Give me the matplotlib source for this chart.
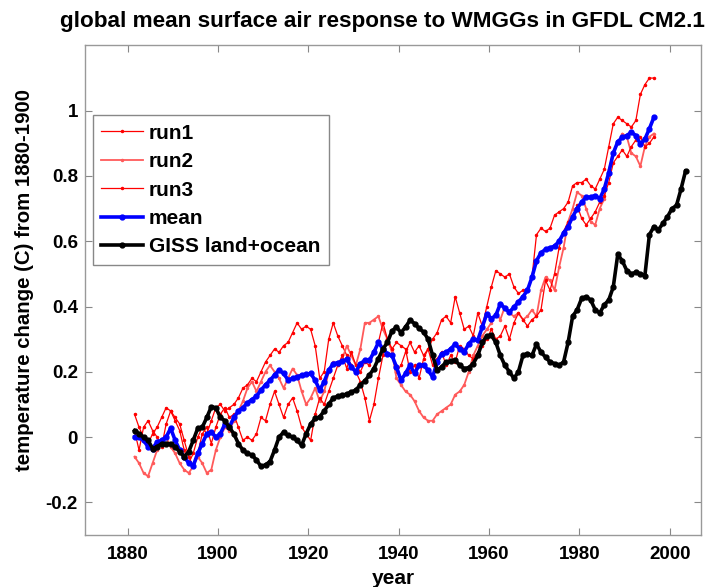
import numpy as np
import matplotlib.pyplot as plt

plt.rcParams['font.family'] = ['Liberation Sans', 'DejaVu Sans']
plt.rcParams['font.weight'] = 'bold'
plt.rcParams['axes.titleweight'] = 'bold'
plt.rcParams['axes.labelweight'] = 'bold'

# model years (annual means, plotted mid-year)
model_years = np.arange(1881, 1997) + 0.5
giss_years = np.arange(1881, 2004) + 0.5

run1 = [0.07, 0.03, 0.00, -0.02, 0.01, 0.03, 0.06, 0.09, 0.08, 0.05,
        0.02, -0.04, -0.08, -0.05, 0.00, 0.03, 0.01, 0.05, 0.09, 0.10,
        0.08, 0.09, 0.10, 0.12, 0.15, 0.16, 0.18, 0.17, 0.20, 0.23,
        0.25, 0.27, 0.26, 0.28, 0.29, 0.32, 0.35, 0.33, 0.34, 0.33,
        0.28, 0.18, 0.20, 0.30, 0.35, 0.31, 0.28, 0.25, 0.22, 0.20,
        0.17, 0.12, 0.05, 0.10, 0.18, 0.25, 0.30, 0.27, 0.20, 0.22,
        0.26, 0.29, 0.26, 0.28, 0.25, 0.27, 0.30, 0.32, 0.36, 0.37,
        0.35, 0.43, 0.38, 0.33, 0.34, 0.31, 0.38, 0.34, 0.40, 0.46,
        0.51, 0.50, 0.49, 0.50, 0.46, 0.44, 0.45, 0.45, 0.49, 0.62,
        0.64, 0.63, 0.64, 0.68, 0.69, 0.70, 0.72, 0.77, 0.78, 0.78,
        0.79, 0.77, 0.76, 0.79, 0.82, 0.89, 0.96, 0.98, 0.97, 0.96,
        0.95, 0.97, 1.05, 1.08, 1.10, 1.10]

run2 = [-0.06, -0.08, -0.11, -0.12, -0.08, -0.04, -0.02, 0.00, -0.03, -0.05,
        -0.08, -0.10, -0.11, -0.09, -0.06, -0.08, -0.11, -0.10, -0.04, 0.00,
        0.03, 0.02, 0.05, 0.08, 0.11, 0.15, 0.17, 0.14, 0.17, 0.20,
        0.22, 0.20, 0.18, 0.15, 0.18, 0.21, 0.19, 0.14, 0.10, 0.12,
        0.15, 0.11, 0.14, 0.20, 0.23, 0.22, 0.24, 0.28, 0.25, 0.22,
        0.27, 0.35, 0.35, 0.36, 0.37, 0.33, 0.30, 0.26, 0.18, 0.16,
        0.14, 0.13, 0.11, 0.08, 0.06, 0.05, 0.05, 0.07, 0.08, 0.09,
        0.10, 0.13, 0.14, 0.16, 0.20, 0.25, 0.28, 0.31, 0.33, 0.35,
        0.38, 0.36, 0.40, 0.38, 0.37, 0.38, 0.36, 0.37, 0.39, 0.37,
        0.45, 0.49, 0.48, 0.45, 0.52, 0.58, 0.66, 0.70, 0.75, 0.74,
        0.70, 0.66, 0.65, 0.70, 0.73, 0.82, 0.87, 0.90, 0.93, 0.92,
        0.87, 0.86, 0.83, 0.89, 0.92, 0.93]

run3 = [0.02, -0.04, 0.03, 0.05, 0.02, 0.00, -0.03, 0.04, 0.08, 0.06,
        0.04, -0.01, -0.06, -0.09, -0.05, 0.01, 0.03, -0.02, 0.03, 0.07,
        0.09, 0.06, 0.07, 0.03, -0.01, 0.00, -0.01, 0.01, 0.06, 0.05,
        0.10, 0.14, 0.10, 0.06, 0.10, 0.12, 0.08, 0.03, 0.01, -0.01,
        0.07, 0.12, 0.10, 0.14, 0.18, 0.22, 0.25, 0.21, 0.26, 0.22,
        0.20, 0.23, 0.22, 0.26, 0.29, 0.35, 0.30, 0.27, 0.29, 0.28,
        0.27, 0.20, 0.22, 0.18, 0.24, 0.27, 0.22, 0.24, 0.26, 0.22,
        0.25, 0.23, 0.28, 0.27, 0.25, 0.24, 0.26, 0.28, 0.30, 0.33,
        0.30, 0.31, 0.34, 0.30, 0.35, 0.38, 0.36, 0.34, 0.36, 0.37,
        0.39, 0.48, 0.45, 0.50, 0.58, 0.63, 0.66, 0.67, 0.71, 0.67,
        0.65, 0.67, 0.69, 0.72, 0.74, 0.78, 0.84, 0.86, 0.88, 0.86,
        0.89, 0.91, 0.92, 0.89, 0.90, 0.92]

ens_mean = [0.00, 0.00, -0.01, -0.03, -0.035, -0.015, -0.01, 0.00, 0.027, -0.01,
            -0.04, -0.06, -0.08, -0.088, -0.05, -0.02, 0.01, 0.016, 0.00, 0.01,
            0.04, 0.031, 0.06, 0.08, 0.09, 0.105, 0.115, 0.125, 0.144, 0.16,
            0.174, 0.19, 0.205, 0.195, 0.175, 0.18, 0.184, 0.19, 0.192, 0.195,
            0.174, 0.144, 0.17, 0.205, 0.225, 0.228, 0.232, 0.238, 0.215, 0.20,
            0.225, 0.235, 0.235, 0.26, 0.29, 0.27, 0.255, 0.25, 0.215, 0.174,
            0.195, 0.22, 0.195, 0.22, 0.22, 0.205, 0.184, 0.23, 0.255, 0.26,
            0.27, 0.285, 0.27, 0.26, 0.286, 0.30, 0.297, 0.337, 0.378, 0.363,
            0.373, 0.409, 0.394, 0.383, 0.398, 0.414, 0.43, 0.45, 0.49, 0.54,
            0.565, 0.575, 0.58, 0.585, 0.60, 0.625, 0.645, 0.675, 0.70, 0.72,
            0.735, 0.735, 0.74, 0.73, 0.76, 0.81, 0.87, 0.905, 0.918, 0.924,
            0.934, 0.924, 0.898, 0.913, 0.945, 0.98]

giss = [0.02, 0.01, 0.00, -0.01, -0.035, -0.03, -0.02, -0.02, -0.02, -0.03,
        -0.045, -0.06, -0.045, -0.01, 0.027, 0.03, 0.06, 0.093, 0.09, 0.06,
        0.05, 0.03, 0.01, -0.02, -0.04, -0.05, -0.055, -0.07, -0.09, -0.085,
        -0.075, -0.04, 0.00, 0.015, 0.005, 0.00, -0.01, -0.025, 0.01, 0.04,
        0.057, 0.062, 0.08, 0.10, 0.12, 0.125, 0.128, 0.132, 0.138, 0.144,
        0.16, 0.172, 0.19, 0.21, 0.24, 0.27, 0.29, 0.325, 0.337, 0.32,
        0.337, 0.358, 0.348, 0.333, 0.322, 0.30, 0.25, 0.205, 0.215, 0.23,
        0.232, 0.235, 0.22, 0.21, 0.213, 0.225, 0.25, 0.29, 0.31, 0.312,
        0.29, 0.25, 0.22, 0.20, 0.18, 0.20, 0.25, 0.256, 0.25, 0.285,
        0.26, 0.245, 0.23, 0.225, 0.22, 0.23, 0.29, 0.37, 0.39, 0.425,
        0.43, 0.42, 0.39, 0.38, 0.405, 0.42, 0.46, 0.56, 0.54, 0.51,
        0.50, 0.505, 0.50, 0.495, 0.62, 0.645, 0.635, 0.655, 0.675, 0.70,
        0.71, 0.76, 0.815]

fig = plt.figure(figsize=(7.07, 5.87), dpi=100)
ax = fig.add_axes([0.120, 0.0886, 0.872, 0.834])

ax.plot(model_years, run1, '-', color='red', lw=0.9, marker='.', ms=3, label='run1')
ax.plot(model_years, run2, '-', color='#ff5a5a', lw=1.3, marker='.', ms=3, label='run2')
ax.plot(model_years, run3, '-', color='red', lw=0.9, marker='.', ms=3, label='run3')
ax.plot(model_years, ens_mean, '-', color='blue', lw=2.6, marker='.', ms=7, label='mean')
ax.plot(giss_years, giss, '-', color='black', lw=2.6, marker='.', ms=7, label='GISS land+ocean')

ax.set_xlim(1870.5, 2007)
ax.set_ylim(-0.3, 1.2)
ax.set_xticks(np.arange(1880, 2001, 20))
ax.set_yticks([-0.2, 0, 0.2, 0.4, 0.6, 0.8, 1])
ax.set_yticklabels(['-0.2', '0', '0.2', '0.4', '0.6', '0.8', '1'])
ax.tick_params(axis='both', direction='in', top=True, right=True, length=5,
               labelsize=13.5, color='#888888')
ax.tick_params(axis='x', pad=8)
ax.tick_params(axis='y', pad=5)
for s in ax.spines.values():
    s.set_color('#999999')
    s.set_linewidth(1.0)

ax.set_title('global mean surface air response to WMGGs in GFDL CM2.1',
             fontsize=16.2, pad=13, x=0.483)
ax.set_xlabel('year', fontsize=15, labelpad=4)
ax.set_ylabel('temperature change (C) from 1880-1900', fontsize=14.7)
ax.yaxis.set_label_coords(-0.082, 0.52)

leg = ax.legend(loc='upper left', bbox_to_anchor=(0.013, 0.857), fontsize=15,
                numpoints=1, handlelength=2.0, handletextpad=0.3,
                labelspacing=0.45, borderpad=0.4, borderaxespad=0,
                fancybox=False, edgecolor='#888888', framealpha=1)
leg.get_frame().set_linewidth(1.0)

fig.savefig('out.png', dpi=100)
